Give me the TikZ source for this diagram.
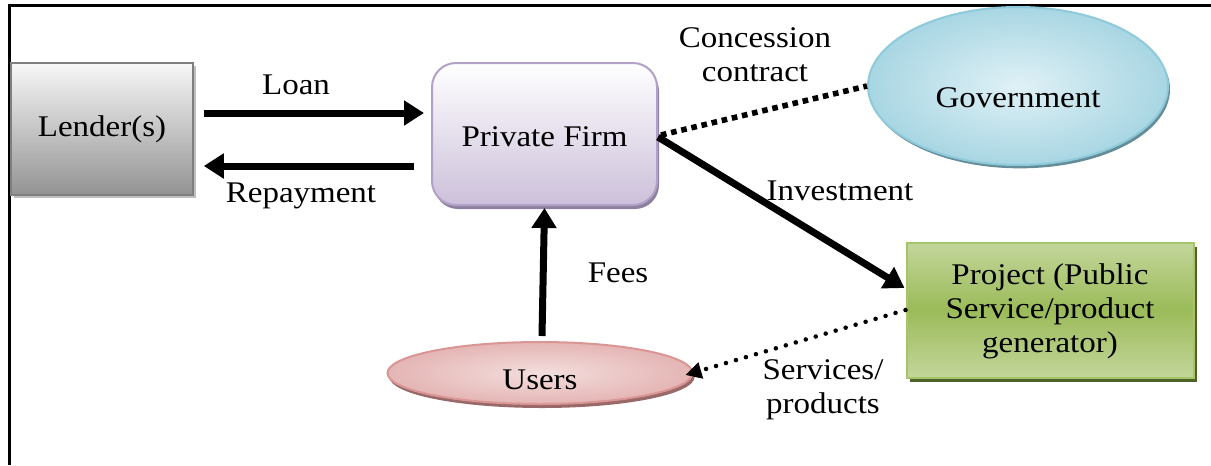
\documentclass[tikz,border=0pt]{standalone}
\usepackage{fontspec}
\setmainfont{Liberation Serif}[FakeStretch=1.1]
\usetikzlibrary{arrows.meta,shapes.geometric,shadows}

\definecolor{lendTop}{HTML}{F7F7F7}
\definecolor{lendBot}{HTML}{939393}
\definecolor{lendLine}{HTML}{7F7F7F}
\definecolor{firmTop}{HTML}{FFFFFF}
\definecolor{firmBot}{HTML}{CCC0DA}
\definecolor{firmLine}{HTML}{B2A1C7}
\definecolor{govIn}{HTML}{E0F1F6}
\definecolor{govOut}{HTML}{A8D6E3}
\definecolor{govLine}{HTML}{8FCADB}
\definecolor{projLight}{HTML}{C3D69B}
\definecolor{projMid}{HTML}{9BBB59}
\definecolor{projLine}{HTML}{A6C46A}
\definecolor{projShade}{HTML}{4F6228}
\definecolor{userIn}{HTML}{F3DEDD}
\definecolor{userOut}{HTML}{E4B5B4}
\definecolor{userLine}{HTML}{D99694}

\tikzset{
  lbl/.style={font=\fontsize{22.5}{25.5}\selectfont, align=center, inner sep=0pt},
  lenderbox/.style={rectangle, draw=lendLine, line width=1.2pt,
    top color=lendTop, bottom color=lendBot,
    minimum width=136.5pt, minimum height=99pt,
    drop shadow={shadow xshift=2.5pt, shadow yshift=-2.5pt, fill=black!25, opacity=1}},
  firmbox/.style={rectangle, rounded corners=18pt, draw=firmLine, line width=1.5pt,
    top color=firmTop, bottom color=firmBot,
    minimum width=168.75pt, minimum height=106.5pt,
    drop shadow={shadow xshift=1.5pt, shadow yshift=-3pt, fill=firmLine!80!black, opacity=1}},
  govshape/.style={ellipse, draw=govLine, line width=1.5pt,
    inner color=govIn, outer color=govOut,
    minimum width=225pt, minimum height=118.5pt,
    drop shadow={shadow xshift=1.5pt, shadow yshift=-2.5pt, fill=govLine!70!black, opacity=1}},
  projbox/.style={rectangle, draw=projLine, line width=1.5pt,
    top color=projLight, bottom color=projLight, middle color=projMid,
    minimum width=215.25pt, minimum height=101.25pt,
    drop shadow={shadow xshift=2.5pt, shadow yshift=-3pt, fill=projShade, opacity=1}},
  usershape/.style={ellipse, draw=userLine, line width=1.5pt,
    inner color=userIn, outer color=userOut,
    minimum width=228.75pt, minimum height=46.5pt,
    drop shadow={shadow xshift=1.5pt, shadow yshift=-3pt, fill=userLine!70!black, opacity=1}},
  bigarrow/.style={line width=5.25pt, -{Triangle[length=15pt,width=18pt]}},
  squaredots/.style={line width=4.2pt, dash pattern=on 4.2pt off 3.6pt},
  rounddots/.style={line width=3.4pt, line cap=round, dash pattern=on 0pt off 7.8pt,
    -{Triangle[length=12pt,width=12pt]}},
}

\begin{document}
\begin{tikzpicture}[x=0.75pt, y=-0.75pt]
\useasboundingbox (0,0) rectangle (1211,465);

% outer frame (top and left edges)
\draw[line width=2.25pt] (9,465) -- (9,5) -- (1211,5);

% parties
\node[lenderbox] (lender) at (102,129) {};
\node[lbl] (lenderT) at (102,129) {Lender(s)};

\node[firmbox] (firm) at (544.5,134) {};
\node[lbl] (firmT) at (544.5,137) {Private Firm};

\node[govshape] (gov) at (1018,86) {};
\node[lbl] (govT) at (1018,98) {Government};

\node[projbox] (proj) at (1050,310) {};
\node[lbl] (projT) at (1050,311) {Project (Public\\Service/product\\generator)};

\node[usershape] (users) at (540,373) {};
\node[lbl] (usersT) at (540,380) {Users};

% flows
\draw[bigarrow] ([shift={(10,-16)}]lender.east) -- ([shift={(-7,-21)}]firm.west);
\draw[bigarrow] ([shift={(-17,32)}]firm.west) -- ([shift={(10,37)}]lender.east);
\draw[squaredots] ([shift={(3,1)}]firm.east) -- (gov.west);
\draw[bigarrow] ([shift={(0,3)}]firm.east) -- ([shift={(-1,-22)}]proj.west);
\draw[bigarrow] ([shift={(2,-5)}]users.north) -- ([shift={(0,2)}]firm.south);
\draw[rounddots] (proj.west) -- ([shift={(-8,2)}]users.east);

% flow labels
\node[lbl] (loanL) at (296,85) {Loan};
\node[lbl] (repayL) at (301,196) {Repayment};
\node[lbl] (concL) at (755,55) {Concession\\contract};
\node[lbl] (investL) at (840,191) {Investment};
\node[lbl] (feesL) at (618,273) {Fees};
\node[lbl] (servL) at (823,390) {Services/\\products};
\end{tikzpicture}
\end{document}
